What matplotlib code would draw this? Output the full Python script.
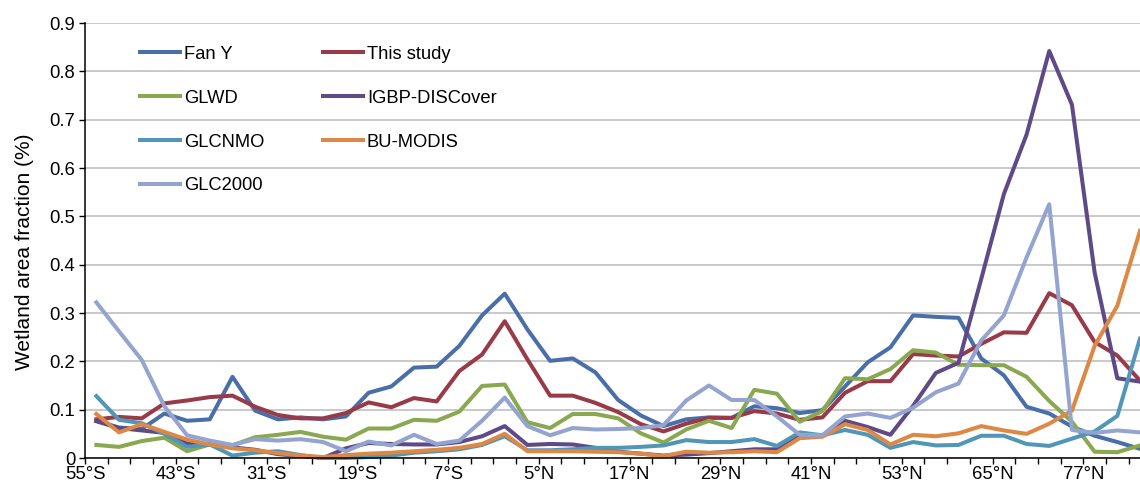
import numpy as np
import matplotlib
matplotlib.use("Agg")
import matplotlib.pyplot as plt

plt.rcParams['font.family'] = ['Liberation Sans', 'DejaVu Sans']

# 3-degree latitude bands, plotted at band centres
lat = [-53.5, -50.5, -47.5, -44.5, -41.5, -38.5, -35.5, -32.5, -29.5, -26.5,
       -23.5, -20.5, -17.5, -14.5, -11.5, -8.5, -5.5, -2.5, 0.5, 3.5,
       6.5, 9.5, 12.5, 15.5, 18.5, 21.5, 24.5, 27.5, 30.5, 33.5,
       36.5, 39.5, 42.5, 45.5, 48.5, 51.5, 54.5, 57.5, 60.5, 63.5,
       66.5, 69.5, 72.5, 75.5, 78.5, 81.5, 84.5]

fan_y = [0.077, 0.063, 0.060, 0.092, 0.077, 0.080, 0.168, 0.098, 0.080, 0.084,
         0.080, 0.086, 0.135, 0.148, 0.187, 0.189, 0.232, 0.295, 0.340, 0.266,
         0.201, 0.206, 0.177, 0.120, 0.088, 0.066, 0.080, 0.084, 0.083, 0.107,
         0.103, 0.093, 0.099, 0.148, 0.198, 0.229, 0.295, 0.292, 0.290, 0.206,
         0.171, 0.106, 0.092, 0.065, 0.046, 0.033, 0.019]
this_study = [0.080, 0.085, 0.082, 0.113, 0.119, 0.126, 0.129, 0.106, 0.089, 0.082,
              0.082, 0.093, 0.115, 0.105, 0.124, 0.117, 0.180, 0.214, 0.283, 0.204,
              0.129, 0.129, 0.114, 0.095, 0.070, 0.055, 0.071, 0.083, 0.083, 0.097,
              0.092, 0.079, 0.084, 0.135, 0.159, 0.159, 0.215, 0.212, 0.210, 0.236,
              0.260, 0.259, 0.341, 0.316, 0.240, 0.212, 0.160]
glwd = [0.027, 0.023, 0.035, 0.042, 0.014, 0.028, 0.026, 0.043, 0.048, 0.054,
        0.044, 0.038, 0.061, 0.061, 0.079, 0.077, 0.096, 0.149, 0.152, 0.074,
        0.062, 0.091, 0.091, 0.082, 0.051, 0.032, 0.059, 0.077, 0.062, 0.141,
        0.133, 0.075, 0.097, 0.165, 0.163, 0.184, 0.223, 0.218, 0.193, 0.192,
        0.192, 0.168, 0.118, 0.075, 0.013, 0.012, 0.026]
igbp = [0.076, 0.062, 0.057, 0.052, 0.030, 0.029, 0.022, 0.017, 0.008, 0.004,
        0.000, 0.020, 0.031, 0.029, 0.028, 0.028, 0.033, 0.045, 0.066, 0.027,
        0.029, 0.028, 0.021, 0.013, 0.009, 0.005, 0.007, 0.010, 0.014, 0.018,
        0.018, 0.047, 0.047, 0.077, 0.064, 0.048, 0.108, 0.176, 0.197, 0.370,
        0.546, 0.669, 0.842, 0.731, 0.384, 0.165, 0.158]
glcnmo = [0.128, 0.079, 0.072, 0.050, 0.023, 0.028, 0.005, 0.011, 0.014, 0.006,
          0.000, 0.000, 0.002, 0.005, 0.011, 0.014, 0.018, 0.027, 0.045, 0.016,
          0.016, 0.018, 0.021, 0.021, 0.023, 0.026, 0.037, 0.033, 0.033, 0.039,
          0.025, 0.053, 0.047, 0.058, 0.048, 0.021, 0.033, 0.026, 0.027, 0.046,
          0.046, 0.029, 0.025, 0.040, 0.055, 0.087, 0.247]
bu_modis = [0.091, 0.053, 0.070, 0.054, 0.038, 0.028, 0.020, 0.016, 0.010, 0.005,
            0.002, 0.006, 0.009, 0.011, 0.014, 0.017, 0.021, 0.029, 0.050, 0.014,
            0.014, 0.014, 0.013, 0.012, 0.009, 0.004, 0.013, 0.011, 0.012, 0.014,
            0.012, 0.041, 0.044, 0.070, 0.058, 0.028, 0.048, 0.045, 0.051, 0.066,
            0.057, 0.050, 0.071, 0.098, 0.232, 0.315, 0.470]
glc2000 = [0.322, 0.262, 0.203, 0.107, 0.047, 0.036, 0.027, 0.039, 0.036, 0.039,
           0.033, 0.014, 0.034, 0.026, 0.048, 0.029, 0.036, 0.077, 0.125, 0.066,
           0.047, 0.062, 0.059, 0.060, 0.062, 0.068, 0.119, 0.150, 0.120, 0.120,
           0.086, 0.048, 0.047, 0.086, 0.092, 0.083, 0.104, 0.136, 0.154, 0.243,
           0.295, 0.415, 0.525, 0.058, 0.052, 0.057, 0.053]

tick_pos = [-55, -43, -31, -19, -7, 5, 17, 29, 41, 53, 65, 77]
tick_labels = ["55°S", "43°S", "31°S", "19°S", "7°S", "5°N",
               "17°N", "29°N", "41°N", "53°N", "65°N", "77°N"]
band_edges = list(range(-55, 85, 3))

series = [
    ("Fan Y", fan_y, "#4a6fa8"),
    ("This study", this_study, "#983a47"),
    ("GLWD", glwd, "#8aa84f"),
    ("IGBP-DISCover", igbp, "#5f4a87"),
    ("GLCNMO", glcnmo, "#5196b6"),
    ("BU-MODIS", bu_modis, "#dd8844"),
    ("GLC2000", glc2000, "#93a4cf"),
]

fig = plt.figure(figsize=(11.4, 4.86), dpi=100)
ax = fig.add_axes([85 / 1140, 1 - 458 / 486, 1 - 85 / 1140, 435 / 486])

handles = []
for name, vals, col in series:
    h, = ax.plot(lat, vals, color=col, lw=2.9, label=name, clip_on=False)
    handles.append(h)

ax.set_xlim(-55, 84.5)
ax.set_ylim(0, 0.9)
yt = [0, 0.1, 0.2, 0.3, 0.4, 0.5, 0.6, 0.7, 0.8, 0.9]
ax.set_yticks(yt)
ax.set_yticklabels(["0"] + ["%.1f" % v for v in yt[1:]])
ax.set_xticks(tick_pos)
ax.set_xticklabels(tick_labels)
ax.set_xticks(band_edges, minor=True)

ax.yaxis.grid(True, color="#c0c0c0", lw=1.2)
ax.set_axisbelow(True)
for s in ["top", "right"]:
    ax.spines[s].set_visible(False)
for s in ["left", "bottom"]:
    ax.spines[s].set_linewidth(1.1)
ax.tick_params(axis="both", which="both", direction="out", length=4, width=1,
               labelsize=13.3, pad=2)
ax.tick_params(axis="y", pad=3)
ax.set_ylabel("Wetland area fraction (%)", fontsize=15)
ax.yaxis.set_label_coords(-0.048, 0.475)

order = [0, 2, 4, 6, 1, 3, 5]
ax.legend([handles[i] for i in order], [series[i][0] for i in order],
          ncol=2, frameon=False, loc="upper left", bbox_to_anchor=(0.052, 0.948),
          fontsize=13.2, handlelength=2.2, handletextpad=0.2, labelspacing=1.47,
          columnspacing=3.2, borderpad=0, borderaxespad=0)

fig.savefig("out.png", dpi=100)
